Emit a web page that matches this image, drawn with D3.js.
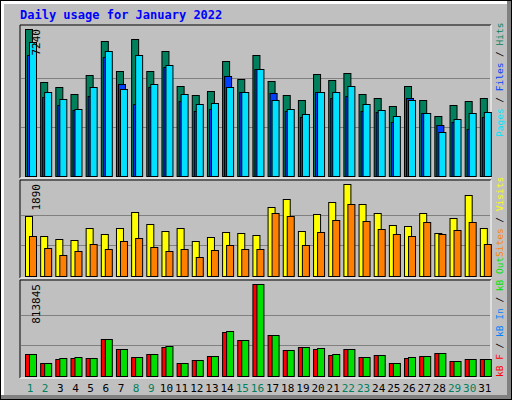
<!DOCTYPE html><html><head><meta charset="utf-8"><script src="https://cdn.jsdelivr.net/npm/d3@7"></script>
<style>body{margin:0}svg{display:block}</style></head><body><svg width="512" height="400"></svg><script>
const days=d3.range(1,32);
const weekend=[1,2,8,9,15,16,22,23,29,30];
const hits=[7240,4630,4383,4039,4974,6649,5171,6747,5171,6156,4433,3989,4186,5664,4777,5959,4679,3989,3743,5024,4728,5073,4039,3842,3448,4433,3743,2955,3497,3694,3842];
const files=[5959,3891,3497,3251,3940,5861,4531,3546,4383,5368,3694,3201,3300,4925,4137,5270,4088,3201,2906,4137,3842,3940,3201,3152,2660,3842,3103,2512,2660,2315,2906];
const pages=[6600,4137,3792,3300,4383,6156,4285,5959,4531,5467,4039,3546,3595,4383,4137,5270,3743,3300,3054,4137,4137,4433,3546,3251,2955,3743,3103,2167,2807,3103,3152];
const visits=[1232,822,760,740,986,863,986,1315,1068,924,986,719,801,904,883,842,1417,1582,924,1274,1520,1890,1479,1294,1048,1027,1294,883,1191,1664,986];
const sites=[822,575,431,514,657,555,719,781,596,514,555,390,534,637,555,555,1294,1232,637,904,1150,1479,1130,965,863,822,1109,863,945,1109,657];
const kbOut=[198000,118000,157000,166000,157000,326000,237000,166000,198000,264000,118000,139000,175000,397000,317000,813845,361000,228000,255000,246000,193000,237000,166000,184000,113000,166000,175000,201000,130000,148000,148000];
const kbF=[198000,118000,149000,157000,157000,326000,237000,166000,198000,255000,118000,139000,175000,388000,317000,813845,361000,228000,255000,237000,184000,237000,166000,184000,113000,157000,175000,201000,130000,148000,148000];
const kbIn=[1500,1000,1000,1200,1000,1800,1500,1200,1300,1600,1000,1000,1200,3500,1800,2500,1800,1300,1400,1400,1200,1400,1100,1200,1000,1100,1200,1300,1000,1100,1100];
const maxTop=7240,maxMid=1890,maxBot=813845;

const svg=d3.select("svg");
svg.append("rect").attr("x",0).attr("y",0).attr("width",512).attr("height",400).attr("fill","#000");
svg.append("rect").attr("x",1).attr("y",1).attr("width",510).attr("height",398).attr("fill","#808080");
svg.append("rect").attr("x",1).attr("y",1).attr("width",506).attr("height",394).attr("fill","#fff");
svg.append("rect").attr("x",4).attr("y",4).attr("width",503).attr("height",391).attr("fill","#c0c0c0");
svg.append("text").attr("x",20).attr("y",19).attr("fill","#0000ff").attr("font-family","DejaVu Sans Mono").attr("font-weight","bold").attr("font-size",12).text("Daily usage for January 2022");

const x=d3.scaleBand().domain(days).range([21,491]).paddingInner(0);
function panel(y0,y1,max,series,axisLabel,legend){
  svg.append("path").attr("d",`M20,${y1}V${y0}H491`).attr("stroke","#000").attr("fill","none");
  svg.append("path").attr("d",`M491,${y0}V${y1}H20`).attr("stroke","#fff").attr("fill","none");
  const base=y1-2;
  const y=d3.scaleLinear().domain([0,max]).range([base,base-(base-y0-4)]);
  [max/3,2*max/3].forEach(v=>svg.append("line").attr("x1",21).attr("x2",490).attr("y1",Math.round(y(v))+.5).attr("y2",Math.round(y(v))+.5).attr("stroke","#808080"));
  series.forEach(s=>{
    svg.append("g").selectAll("rect").data(s.data).join("rect")
      .attr("x",(d,i)=>x(days[i])+4+s.off+.5).attr("width",s.w)
      .attr("y",d=>Math.round(y(d))+.5).attr("height",d=>base-Math.round(y(d)))
      .attr("fill",s.color).attr("stroke","#000").attr("stroke-width",1);
  });
  svg.append("text").attr("transform",`translate(40,${y0+4}) rotate(-90)`).attr("text-anchor","end")
    .attr("font-family","DejaVu Sans Mono").attr("font-size",11).attr("fill","#000").text(axisLabel);
  const t=svg.append("text").attr("transform",`translate(503,${legend.y}) rotate(-90)`)
    .attr("font-family","DejaVu Sans Mono").attr("font-size",9.5);
  legend.items.forEach((it,i)=>{
    if(i>0)t.append("tspan").attr("fill","#000").text(" / ");
    t.append("tspan").attr("fill",it[1]).text(it[0]);
  });
}
panel(25,178,maxTop,[
  {data:hits,off:0,w:7,color:"#00805c"},
  {data:files,off:2,w:7,color:"#0040ff"},
  {data:pages,off:4,w:7,color:"#00e0ff"}],"7240",{y:137,items:[["Pages","#00e0ff"],["Files","#0040ff"],["Hits","#00805c"]]});
panel(180,278,maxMid,[
  {data:visits,off:0,w:7,color:"#ffff00"},
  {data:sites,off:4,w:7,color:"#ff8000"}],"1890",{y:257,items:[["Sites","#ff8000"],["Visits","#ffff00"]]});
panel(280,378,maxBot,[
  {data:kbF,off:0,w:7,color:"#ff0000"},
  {data:kbIn,off:2,w:7,color:"#0080ff"},
  {data:kbOut,off:4,w:7,color:"#00e000"}],"813845",{y:377,items:[["kB F","#ff0000"],["kB In","#0080ff"],["kB Out","#00e000"]]});

svg.append("g").selectAll("text").data(days).join("text")
  .attr("x",d=>x(d)+9).attr("y",392).attr("text-anchor","middle")
  .attr("font-family","DejaVu Sans Mono").attr("font-size",11)
  .attr("fill",d=>weekend.includes(d)?"#00805c":"#000").text(d=>d);
</script></body></html>
